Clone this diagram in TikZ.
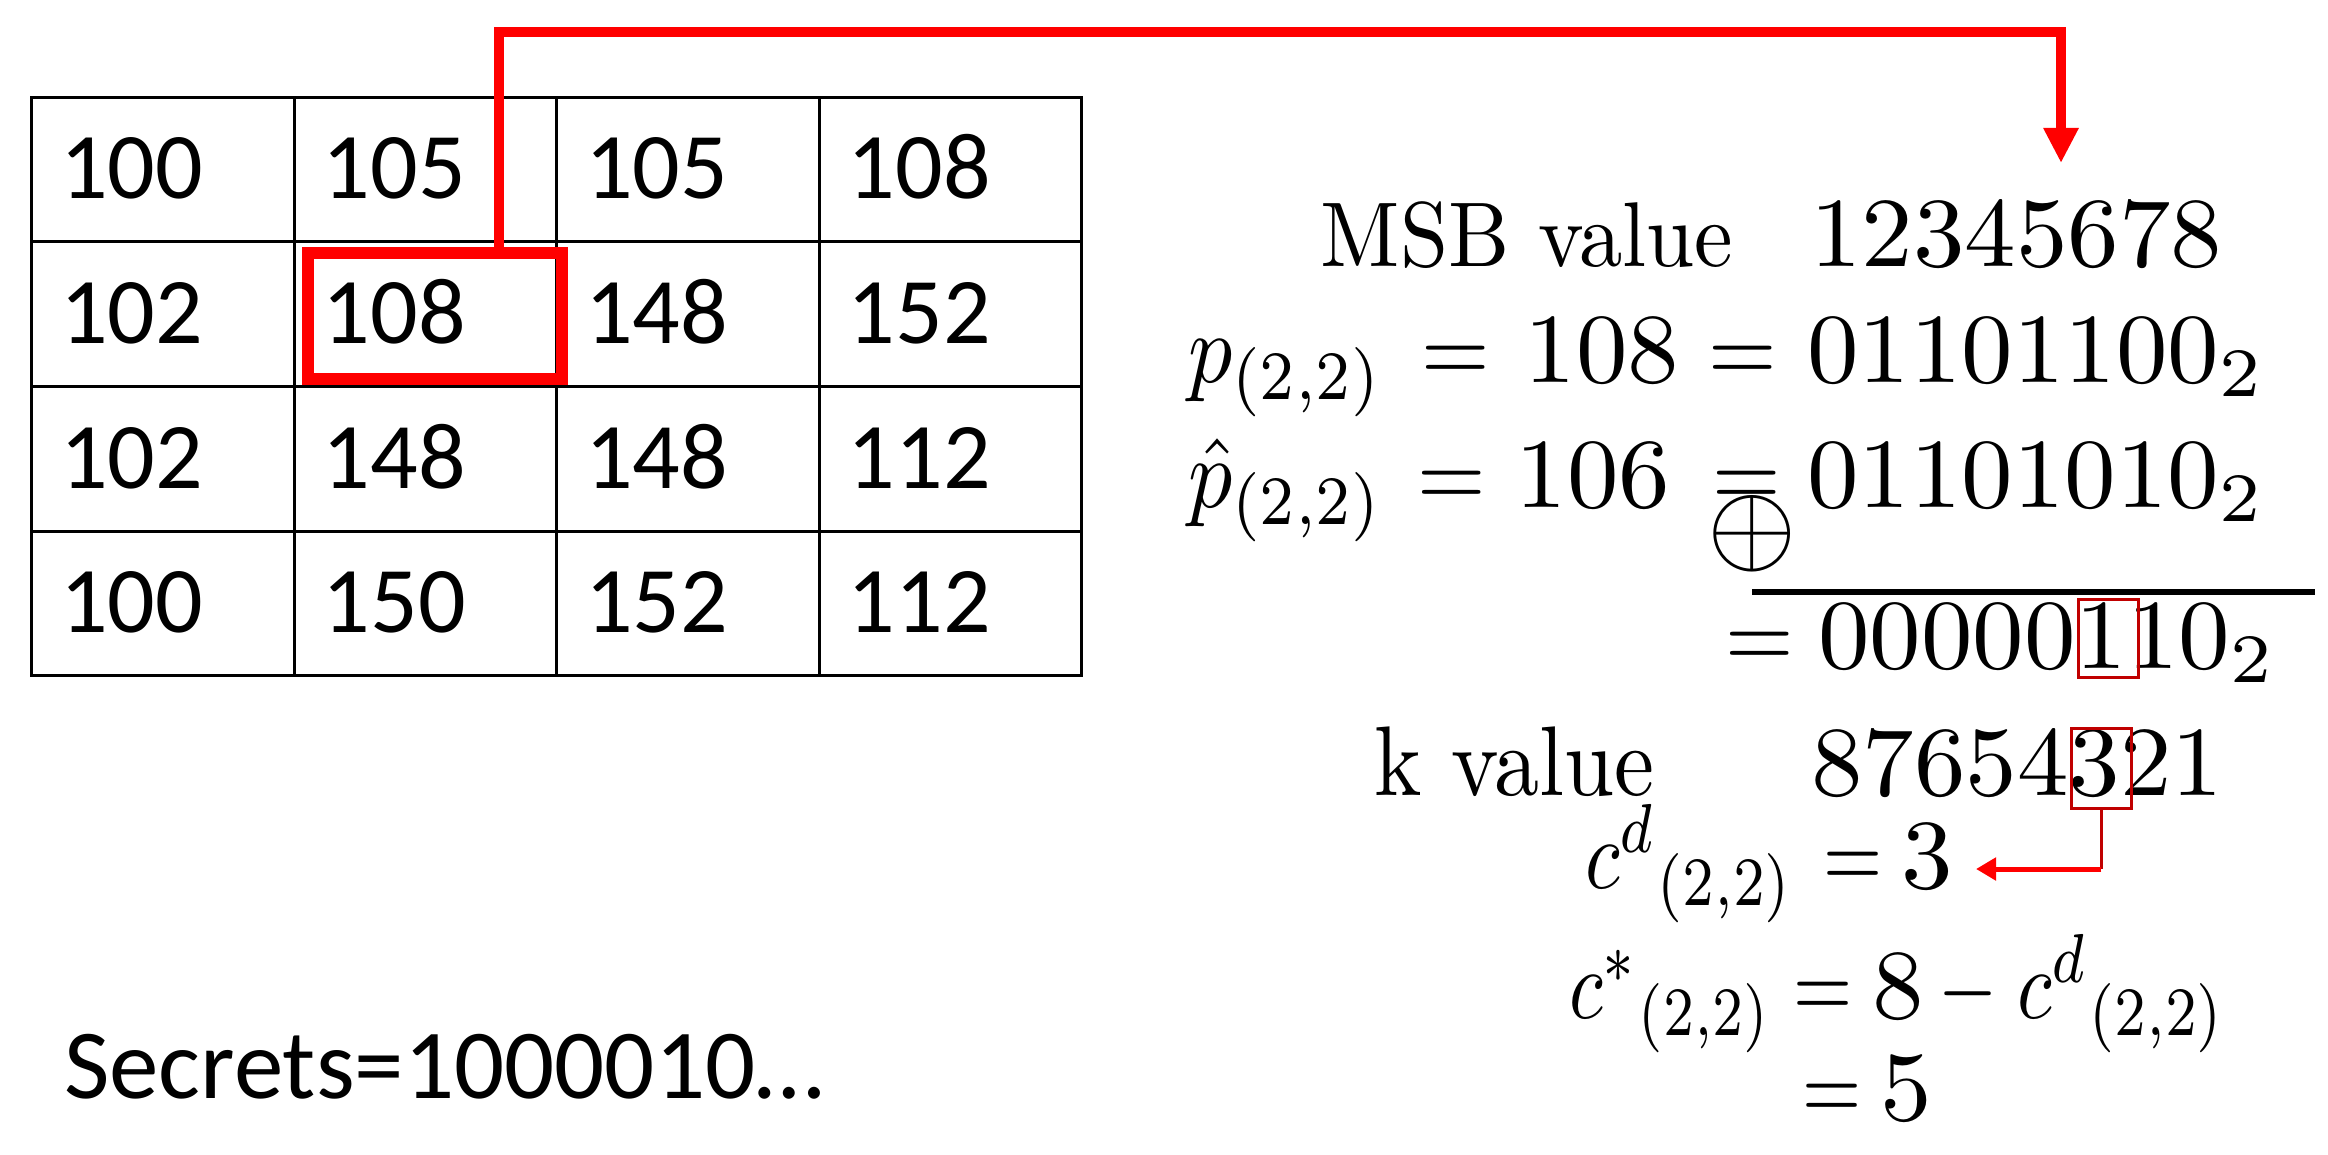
\documentclass[tikz,border=0pt]{standalone}
\usepackage{fontspec}
\usepackage{graphicx}
\newfontfamily\calfont{Carlito}
\usetikzlibrary{arrows.meta,calc}
\definecolor{hlred}{RGB}{255,0,0}
\definecolor{boxred}{RGB}{192,0,0}
\newcommand\MS[1]{\scalebox{10.3}[9.9]{#1}}
\newcommand\ML[1]{\scalebox{8.8}[9.9]{#1}}
\newcommand\MC[1]{\scalebox{8.0}[9.9]{#1}}
\newcommand\EQ{\scalebox{8.8}[9.9]{$=$}}
\newcommand\EQS{\scalebox{7.6}[9.9]{$=$}}
\begin{document}
\begin{tikzpicture}[x=1pt,y=-1pt,
  cellbox/.style={draw=black, line width=3pt, minimum width=262.5pt, minimum height=144.5pt, inner sep=0pt, anchor=north west},
  celltext/.style={font=\calfont\fontsize{94}{100}\selectfont, inner sep=0pt, anchor=base west},
  mtxt/.style={inner sep=0pt, anchor=base},
  mleft/.style={inner sep=0pt, anchor=base west},
  bitbox/.style={draw=boxred, line width=2.5pt, inner sep=0pt, minimum width=60pt, minimum height=80pt, anchor=north west}]
\useasboundingbox[fill=white] (0,0) rectangle (2328,1155);
% table
\foreach \r/\vals in {1/{100,105,105,108},2/{102,108,148,152},3/{102,148,148,112},4/{100,150,152,112}}{
  \foreach \v [count=\c] in \vals {
    \node[cellbox] (c\r\c) at ({30+(\c-1)*262.5},{96+(\r-1)*144.5}) {};
    \node[celltext] (t\r\c) at ($(c\r\c.north west)+(30,103)$) {\v};
  }
}
% highlight
\node[draw=hlred, line width=12pt, minimum width=254pt, minimum height=126pt, inner sep=0pt, anchor=north west] (hl) at (302,247) {};
\coordinate (bend) at (499,32);
\coordinate (msbtip) at (2061,163);
\draw[hlred, line width=10pt, -{Triangle[width=33pt,length=35pt]}] (hl.north -| bend) -- (bend) -| (msbtip);
% MSB row
\node[mtxt] (msbtxt) at (1527,267) {\scalebox{8.66}[9.2]{MSB value}};
\node[mtxt] (msbnum) at (2016,267) {\MS{12345678}};
% p row
\node[mleft] (plab) at (1188,382) {\ML{$p_{(2,2)}$}};
\node[mtxt] (peqa) at (1456,382) {\EQ};
\node[mtxt] (pval) at (1602,382) {\MS{108}};
\node[mtxt] (peqb) at (1743,382) {\EQ};
\node[mleft] (pbin) at (1807,382) {\MS{$01101100_2$}};
% phat row
\node[mleft] (qlab) at (1188,507) {\ML{$\hat{p}_{(2,2)}$}};
\node[mtxt] (qeqa) at (1452,507) {\EQ};
\node[mtxt] (qval) at (1593,507) {\MS{106}};
\node[mtxt] (qeqb) at (1747,507) {\EQ};
\node[mleft] (qbin) at (1807,507) {\MS{$01101010_2$}};
\node[inner sep=0pt] (xorsym) at (1752,534) {\scalebox{11.5}{$\oplus$}};
\coordinate (xl) at (1752,592);
\coordinate (xr) at (2315,592);
\draw[line width=6pt] (xl) -- (xr);
% result row
\node[mtxt] (reqa) at (1760,668) {\EQ};
\node[mleft] (rbin) at (1818,668) {\MS{$00000110_2$}};
\node[bitbox, minimum height=78pt] (b1) at (2077,598) {};
% k row
\node[mtxt] (ktxt) at (1514,795) {\scalebox{9.0}[9.9]{k value}};
\node[mtxt] (knum) at (2017,795) {\MS{87654321}};
\node[bitbox] (b3) at (2070,727) {};
% cd row
\node[mleft] (cdlab) at (1585,888) {\MC{$c^{d}{}_{(2,2)}$}};
\node[mtxt] (cdeq) at (1853,888) {\EQS};
\node[mtxt] (cdval) at (1927,888) {\MS{3}};
\coordinate (cdtip) at (1976,869);
\draw[boxred, line width=3pt] (b3.south) -- (b3.south |- cdtip) coordinate (cdcorner);
\draw[hlred, line width=5pt, -{Triangle[width=22pt,length=20pt]}] (cdcorner) -- (cdtip);
% c* row
\node[mleft] (cslab) at (1569,1018) {\scalebox{7.8}[9.9]{$c^{*}{}_{(2,2)}$}};
\node[mtxt] (cseq) at (1823,1018) {\EQS};
\node[mtxt] (cseight) at (1898,1018) {\MS{8}};
\node[mtxt] (csminus) at (1968,1018) {\scalebox{7.6}[9.9]{$-$}};
\node[mleft] (csd) at (2017,1018) {\MC{$c^{d}{}_{(2,2)}$}};
% = 5
\node[mtxt] (fiveeq) at (1832,1120) {\EQS};
\node[mtxt] (five) at (1906,1120) {\MS{5}};
% secrets
\node[font=\calfont\fontsize{99}{100}\selectfont, inner sep=0pt, anchor=base west] (secrets) at (64,1098) {Secrets=1000010…};
\end{tikzpicture}
\end{document}
